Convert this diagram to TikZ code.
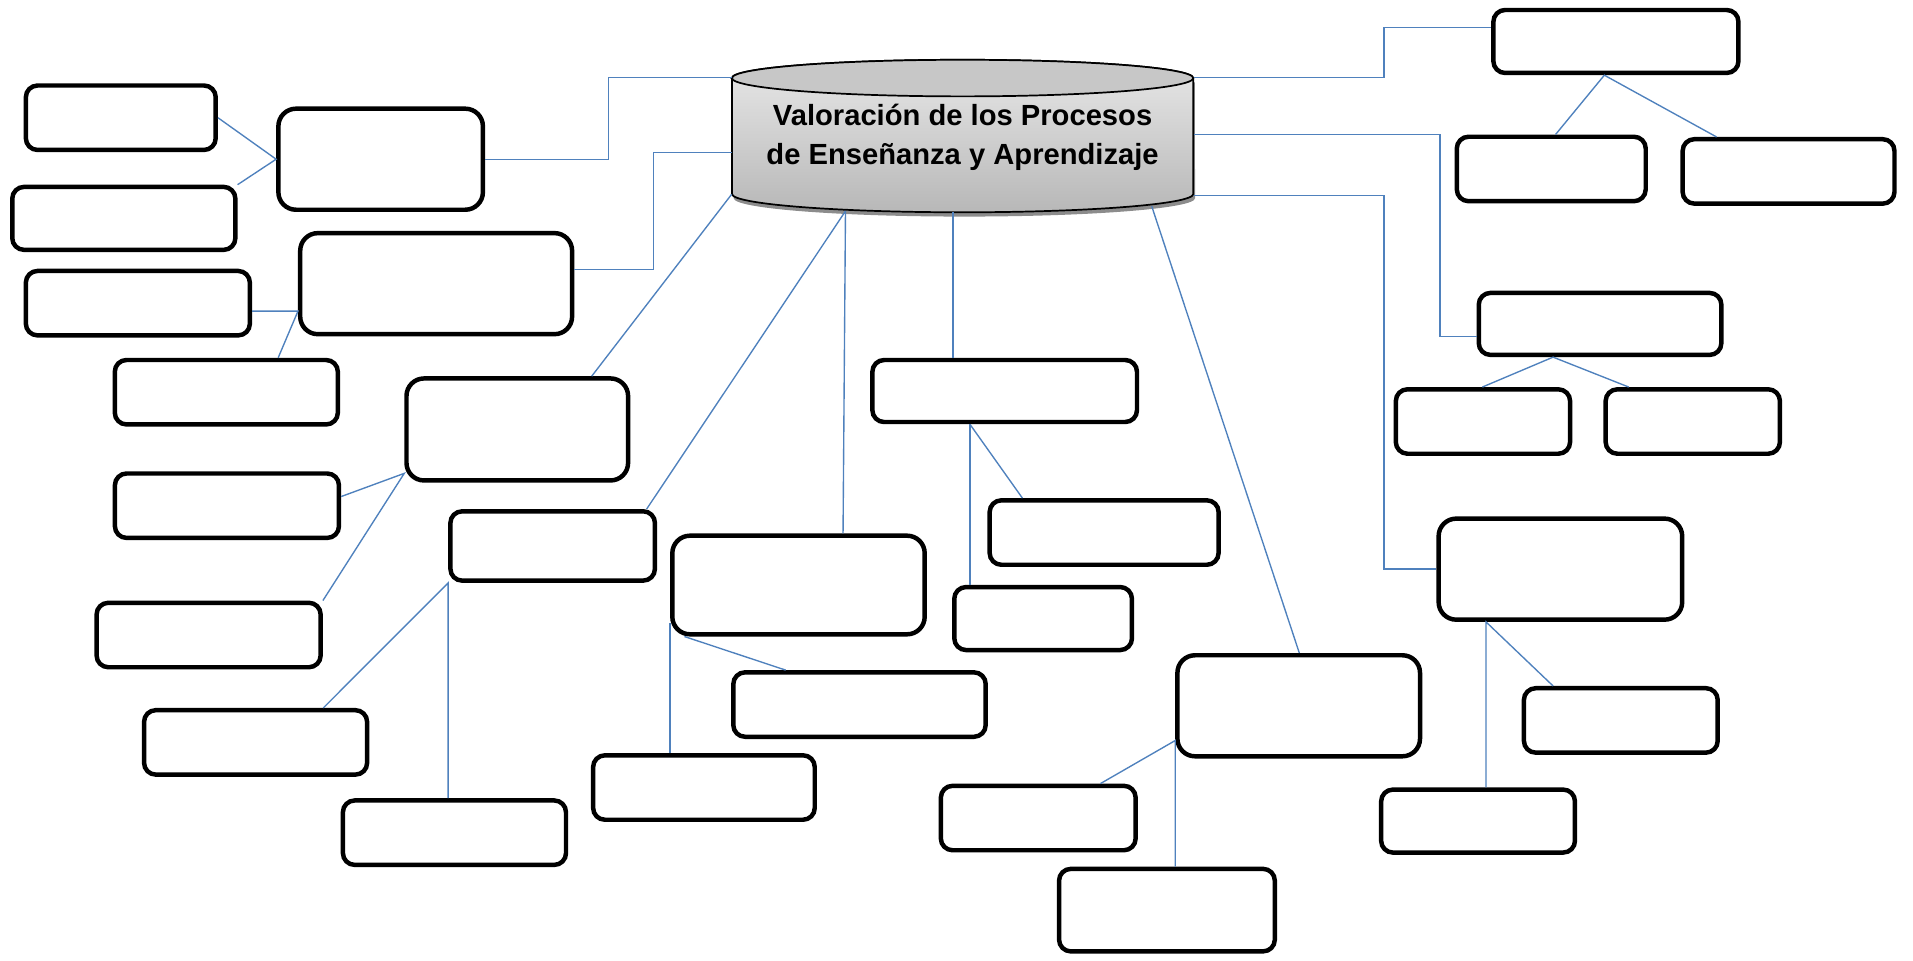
\documentclass[tikz,border=0pt]{standalone}
\usepackage{fontspec}
\newfontfamily\arial{Liberation Sans}
\definecolor{azul}{RGB}{79,129,189}

\begin{document}
\begin{tikzpicture}[x=0.025cm, y=-0.025cm,
    caja/.style={draw, line width=2.6pt, rounded corners=0.24cm, fill=white, inner sep=0pt},
    cajagrande/.style={caja, rounded corners=0.36cm},
    enlace/.style={draw=azul, line width=0.8pt}]
  \useasboundingbox (0,0) rectangle (1568,787);

  \fill[black!45, xshift=1pt, yshift=-2.5pt] (600,64) -- (600,159) arc[start angle=180, end angle=360, x radius=4.725cm, y radius=0.375cm] -- (978,64) -- cycle;
  \draw[line width=1pt, top color=black!9, bottom color=black!28] (600,64) -- (600,159) arc[start angle=180, end angle=360, x radius=4.725cm, y radius=0.375cm] -- (978,64) arc[start angle=0, end angle=180, x radius=4.725cm, y radius=0.375cm] -- cycle;
  \draw[line width=1pt, fill=black!22] (789,64) ellipse[x radius=4.725cm, y radius=0.375cm];
  \node[minimum width=9.45cm, minimum height=2.375cm, inner sep=0pt] (cil) at (789,111.5) {};
  \node[font=\arial\bfseries\fontsize{17}{23}\selectfont, align=center, inner sep=0pt] (tit) at (789,112.5) {Valoración de los Procesos\\de Enseñanza y Aprendizaje};
  \coordinate (cil-a) at (693,173);
  \coordinate (cil-b) at (781,174);
  \coordinate (cil-c) at (944,169);

  \node[caja, minimum width=3.89cm, minimum height=1.32cm] (b1) at (99,96.5) {};
  \node[cajagrande, minimum width=4.19cm, minimum height=2.07cm] (b2) at (312,130.5) {};
  \node[caja, minimum width=4.57cm, minimum height=1.29cm] (b3) at (101.5,179) {};
  \node[caja, minimum width=4.59cm, minimum height=1.32cm] (b4) at (113,248.5) {};
  \node[cajagrande, minimum width=5.57cm, minimum height=2.07cm] (b5) at (357.5,232.5) {};
  \node[caja, minimum width=4.57cm, minimum height=1.32cm] (b6) at (185.5,321.5) {};
  \node[cajagrande, minimum width=4.54cm, minimum height=2.09cm] (b7) at (424,352) {};
  \node[caja, minimum width=4.59cm, minimum height=1.32cm] (b8) at (186,414.5) {};
  \node[caja, minimum width=4.59cm, minimum height=1.32cm] (b9) at (171,520.5) {};
  \node[caja, minimum width=4.19cm, minimum height=1.42cm] (b10) at (453,447.5) {};
  \node[caja, minimum width=4.57cm, minimum height=1.32cm] (b11) at (209.5,608.5) {};
  \node[caja, minimum width=4.57cm, minimum height=1.32cm] (b12) at (372.5,682.5) {};
  \node[cajagrande, minimum width=5.17cm, minimum height=2.02cm] (b13) at (654.5,479.5) {};
  \node[caja, minimum width=5.17cm, minimum height=1.32cm] (b14) at (704.5,577.5) {};
  \node[caja, minimum width=4.54cm, minimum height=1.32cm] (b15) at (577,645.5) {};
  \node[caja, minimum width=5.42cm, minimum height=1.27cm] (b16) at (823.5,320.5) {};
  \node[caja, minimum width=4.69cm, minimum height=1.32cm] (b17) at (905,436.5) {};
  \node[caja, minimum width=3.64cm, minimum height=1.29cm] (b18) at (855,507) {};
  \node[cajagrande, minimum width=4.97cm, minimum height=2.07cm] (b19) at (1064.5,578.5) {};
  \node[caja, minimum width=3.99cm, minimum height=1.32cm] (b20) at (851,670.5) {};
  \node[caja, minimum width=4.42cm, minimum height=1.69cm] (b21) at (956.5,746) {};
  \node[caja, minimum width=5.02cm, minimum height=1.29cm] (b22) at (1324.5,34) {};
  \node[caja, minimum width=3.87cm, minimum height=1.32cm] (b23) at (1271.5,138.5) {};
  \node[caja, minimum width=4.34cm, minimum height=1.32cm] (b24) at (1466,140.5) {};
  \node[caja, minimum width=4.97cm, minimum height=1.27cm] (b25) at (1311.5,265.5) {};
  \node[caja, minimum width=3.57cm, minimum height=1.32cm] (b26) at (1215.5,345.5) {};
  \node[caja, minimum width=3.57cm, minimum height=1.32cm] (b27) at (1387.5,345.5) {};
  \node[cajagrande, minimum width=4.99cm, minimum height=2.07cm] (b28) at (1279,466.5) {};
  \node[caja, minimum width=3.97cm, minimum height=1.32cm] (b29) at (1328.5,590.5) {};
  \node[caja, minimum width=3.97cm, minimum height=1.29cm] (b30) at (1211.5,673) {};

  \draw[enlace] (cil.north west) -- ++(-101,0) |- (b2.east);
  \draw[enlace] (cil.west |- 0,125) -- ++(-64,0) |- ([yshift=0.29cm]b5.east);
  \draw[enlace] (cil.south west) -- (485,0 |- b7.north);
  \draw[enlace] (cil-a) -- (530,0 |- b10.north);
  \draw[enlace] (cil-a) -- (691,0 |- b13.north);
  \draw[enlace] (cil-b) -- (781,0 |- b16.north);
  \draw[enlace] (cil-c) -- (1065,0 |- b19.north);
  \draw[enlace] (cil.north east) -- ++(156,0) |- ([yshift=0.28cm]b22.west);
  \draw[enlace] (cil.east |- 0,110) -- ++(202,0) |- ([yshift=-0.26cm]b25.west);
  \draw[enlace] (cil.east |- 0,160) -- ++(156,0) |- (b28.west);

  \draw[enlace] (b1.east) -- (b2.west) -- (b3.north east);
  \draw[enlace] (b4.east |- 0,255) -- (b5.west |- 0,255) -- (228,0 |- b6.north);
  \draw[enlace] (b8.east |- 0,407) -- (b7.west |- 0,388) -- (b9.north east);
  \draw[enlace] (265,0 |- b11.north) -- (b10.south west) -- (b10.south west |- b12.north);
  \draw[enlace] (b13.west |- 0,511) -- (b13.west |- b15.north);
  \draw[enlace] (561,0 |- b13.south) -- (644,0 |- b14.north);
  \draw[enlace] (795,0 |- b16.south) -- (795,0 |- b18.north);
  \draw[enlace] (795,0 |- b16.south) -- (838,0 |- b17.north);
  \draw[enlace] (902,0 |- b20.north) -- (b19.west |- 0,607) -- (b19.west |- b21.north);
  \draw[enlace] (1275,0 |- b23.north) -- (1315,0 |- b22.south) -- (1407,0 |- b24.north);
  \draw[enlace] (1215,0 |- b26.north) -- (1273,0 |- b25.south) -- (1335,0 |- b27.north);
  \draw[enlace] (1218,0 |- b30.north) -- (1218,0 |- b28.south) -- (1273,0 |- b29.north);
\end{tikzpicture}
\end{document}
